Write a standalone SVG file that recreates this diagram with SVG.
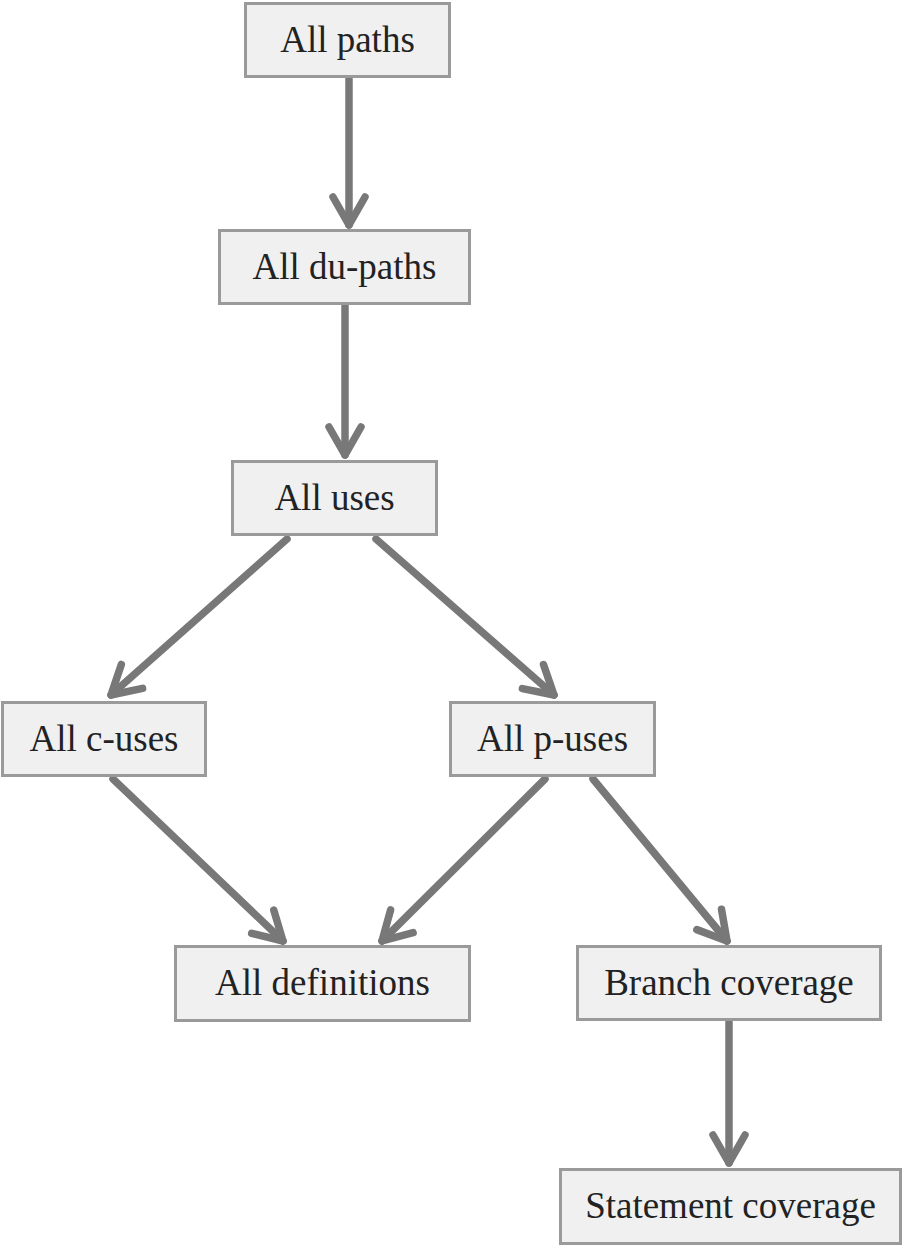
<svg xmlns="http://www.w3.org/2000/svg" width="904" height="1246" viewBox="0 0 904 1246">
<defs>
<style>
.box{fill:#f0f0f0;stroke:#9a9a9a;stroke-width:3}
.lbl{font-family:"Liberation Serif","Times New Roman",serif;font-size:37px;fill:#222;text-anchor:middle}
.edge{stroke:#787878;stroke-width:7.5;fill:none;stroke-linecap:round}
</style>
<marker id="ah" markerUnits="userSpaceOnUse" markerWidth="50" markerHeight="50" viewBox="-40 -25 50 50" refX="0" refY="0" orient="auto">
<path d="M-28,-16 L0,0 L-28,16" fill="none" stroke="#787878" stroke-width="7.5" stroke-linecap="round" stroke-linejoin="round"/>
</marker>
</defs>
<rect width="904" height="1246" fill="#fff"/>
<g id="connectors">
<line class="edge" x1="349" y1="79" x2="349" y2="225" marker-end="url(#ah)"/>
<line class="edge" x1="345" y1="306" x2="345" y2="455" marker-end="url(#ah)"/>
<line class="edge" x1="287" y1="539" x2="111" y2="695" marker-end="url(#ah)"/>
<line class="edge" x1="376" y1="539" x2="554" y2="695" marker-end="url(#ah)"/>
<line class="edge" x1="113" y1="779" x2="283" y2="941" marker-end="url(#ah)"/>
<line class="edge" x1="545" y1="779" x2="382" y2="941" marker-end="url(#ah)"/>
<line class="edge" x1="593" y1="779" x2="727" y2="941" marker-end="url(#ah)"/>
<line class="edge" x1="729" y1="1022" x2="729" y2="1163" marker-end="url(#ah)"/>
</g>
<g id="n-allpaths"><rect class="box" x="245.5" y="3.5" width="204" height="73"/><text class="lbl" x="347.5" y="52">All paths</text></g>
<g id="n-dupaths"><rect class="box" x="219.5" y="230.5" width="250" height="73"/><text class="lbl" x="344.5" y="279">All du-paths</text></g>
<g id="n-uses"><rect class="box" x="232.5" y="461.5" width="204" height="73"/><text class="lbl" x="334.5" y="510">All uses</text></g>
<g id="n-cuses"><rect class="box" x="2.5" y="702.5" width="203" height="73"/><text class="lbl" x="104" y="751">All c-uses</text></g>
<g id="n-puses"><rect class="box" x="450.5" y="702.5" width="204" height="73"/><text class="lbl" x="552.5" y="751">All p-uses</text></g>
<g id="n-defs"><rect class="box" x="175.5" y="946.5" width="294" height="74"/><text class="lbl" x="322.5" y="995">All definitions</text></g>
<g id="n-branch"><rect class="box" x="577.5" y="946.5" width="303" height="73"/><text class="lbl" x="729" y="995">Branch coverage</text></g>
<g id="n-statement"><rect class="box" x="560.5" y="1169.5" width="340" height="74"/><text class="lbl" x="730.5" y="1218">Statement coverage</text></g>
</svg>
